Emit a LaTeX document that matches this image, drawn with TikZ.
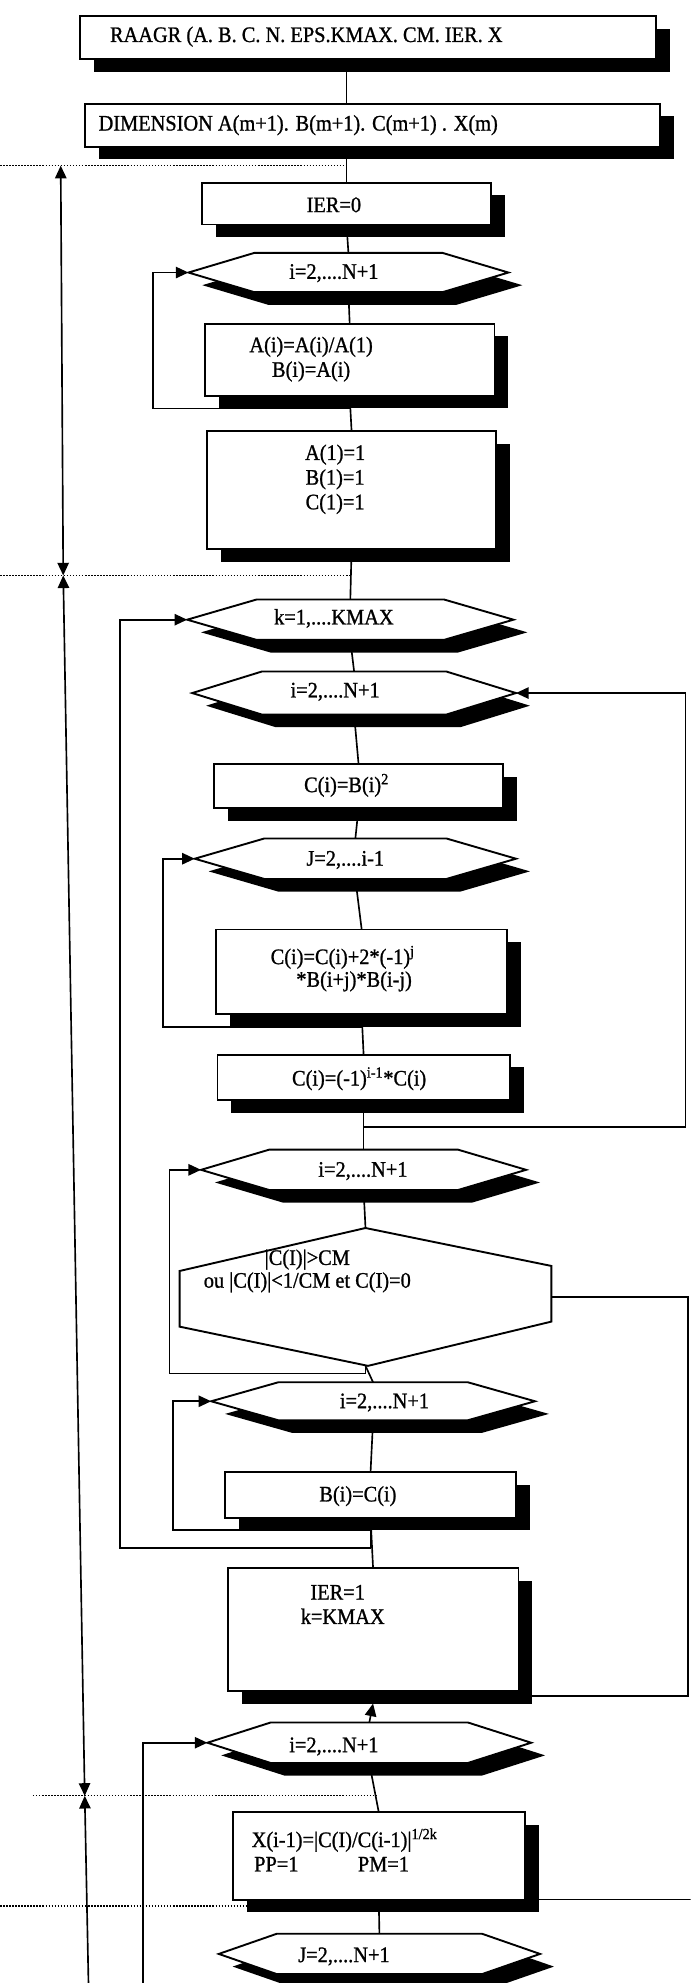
\documentclass[tikz,border=0pt]{standalone}
\usepackage{fontspec}
\setmainfont{Liberation Serif}[FakeStretch=0.92, FakeBold=1]
\usetikzlibrary{arrows.meta,calc}
\tikzset{
  boxnode/.style={draw=black, line width=1.5pt, fill=white, inner sep=0pt, outer sep=0pt},
  shapeline/.style={draw=black, line width=1.5pt, fill=white, line join=miter},
  anchorbox/.style={draw=none, inner sep=0pt, outer sep=0pt},
  wire/.style={draw=black, line width=1.3pt},
  arr/.style={wire, -{Triangle[length=10pt,width=9pt]}},
  dbl/.style={wire, {Triangle[length=10pt,width=9pt]}-{Triangle[length=10pt,width=9pt]}},
  upar/.style={wire, {Triangle[length=10pt,width=9pt]}-},
  sep/.style={draw=black, line width=1pt, dash pattern=on 1.2pt off 1.2pt},
  txt/.style={inner sep=0pt, outer sep=0pt, font=\fontsize{17.5}{19.5}\selectfont, align=center},
}
% box: name, cx, cy, width, height
\newcommand\mybox[5]{%
  \fill[black] ({#2-#4/2+11},{#3-#5/2+10}) rectangle ++(#4,#5);
  \node[boxnode, minimum width={#4}, minimum height={#5}] (#1) at (#2,#3) {};
}
% hexagon: name, cx, cy, half width, half height, inset
\newcommand\myhex[6]{%
  \fill[black, shift={(11,10)}] ({#2-#4},{#3}) -- ({#2-#4+#6},{#3-#5}) -- ({#2+#4-#6},{#3-#5}) -- ({#2+#4},{#3}) -- ({#2+#4-#6},{#3+#5}) -- ({#2-#4+#6},{#3+#5}) -- cycle;
  \draw[shapeline] ({#2-#4},{#3}) -- ({#2-#4+#6},{#3-#5}) -- ({#2+#4-#6},{#3-#5}) -- ({#2+#4},{#3}) -- ({#2+#4-#6},{#3+#5}) -- ({#2-#4+#6},{#3+#5}) -- cycle;
  \node[anchorbox, minimum width={2*#4}, minimum height={2*#5}] (#1) at (#2,#3) {};
}
\begin{document}
\begin{tikzpicture}[x=1pt, y=-1pt]
\useasboundingbox (0,0) rectangle (546,1568);
\clip (0,0) rectangle (546,1568);

% ---------- shapes ----------
\mybox{b1}{291}{30}{456}{34}
\mybox{b2}{294.5}{99}{455}{34}
\mybox{b3}{274}{161}{228}{33}
\myhex{h1}{275.5}{215.5}{126.5}{15.5}{52}
\mybox{ba}{276.5}{284.5}{229}{57}
\mybox{ba1}{278}{387.5}{228}{93}
\myhex{hk}{277}{490}{129}{16}{55}
\myhex{hi}{280}{548}{128}{17}{55}
\mybox{bc}{283.5}{621.5}{229}{35}
\myhex{hj}{281}{679}{127}{16}{55}
\mybox{bd}{286}{768.5}{230}{67}
\mybox{be}{287.5}{852}{231}{36}
\myhex{h3}{287.5}{925}{128.5}{16}{54}
\draw[shapeline] (289,971) -- (436,1001) -- (436,1045) -- (291,1080) -- (142,1049) -- (142,1005) -- cycle;
\node[anchorbox, minimum width=294, minimum height=109] (dec) at (289,1025.5) {};
\myhex{h4}{295}{1108}{128}{15}{53}
\mybox{bg}{293}{1182}{230}{36}
\mybox{bf}{295}{1288.5}{230}{97}
\myhex{h5}{292}{1378}{128}{16}{50}
\mybox{bx}{299.5}{1467.5}{231}{69}
\myhex{h6}{300}{1545}{127}{16}{46}

% ---------- texts ----------
\node[txt, anchor=west] (t1) at (87,29) {RAAGR (A. B. C. N. EPS.KMAX. CM. IER. X};
\node[txt, anchor=west] (t2) at (78,99) {DIMENSION A(m+1). B(m+1). C(m+1) . X(m)};
\node[txt] (t3) at (264,162) {IER=0};
\node[txt] (th1) at (264,216) {i=2,....N+1};
\node[txt] (ta) at (246,284) {A(i)=A(i)/A(1)\\B(i)=A(i)};
\node[txt] (ta1) at (265,379) {A(1)=1\\B(1)=1\\C(1)=1};
\node[txt] (thk) at (264,489) {k=1,....KMAX};
\node[txt] (thi) at (265,547) {i=2,....N+1};
\node[txt] (tc) at (274,621) {C(i)=B(i)\textsuperscript{2}};
\node[txt] (thj) at (273,680) {J=2,....i-1};
\node[txt] (td1) at (271,757) {C(i)=C(i)+2*(-1)\textsuperscript{j}};
\node[txt] (td2) at (280,776) {*B(i+j)*B(i-j)};
\node[txt] (te) at (284,853) {C(i)=(-1)\textsuperscript{i-1}*C(i)};
\node[txt] (th3) at (287,926) {i=2,....N+1};
\node[txt] (tdec1) at (243,996) {|C(I)|>CM};
\node[txt] (tdec2) at (243,1014) {ou |C(I)|<1/CM et C(I)=0};
\node[txt] (th4) at (304,1109) {i=2,....N+1};
\node[txt] (tg) at (283,1183) {B(i)=C(i)};
\node[txt] (tf1) at (267,1259) {IER=1};
\node[txt] (tf2) at (271,1278) {k=KMAX};
\node[txt] (th5) at (264,1381) {i=2,....N+1};
\node[txt, anchor=west] (tx1) at (199,1455) {X(i-1)=|C(I)/C(i-1)|\textsuperscript{1/2k}};
\node[txt, anchor=west] (tx2) at (201,1474) {PP=1};
\node[txt, anchor=west] (tx3) at (283,1474) {PM=1};
\node[txt] (th6) at (272,1547) {J=2,....N+1};

% ---------- coordinates ----------
\coordinate (L1) at (121,323);
\coordinate (LJ) at (129,812);
\coordinate (L3) at (134,1086);
\coordinate (L4) at (137,1210);
\coordinate (LK) at (95,1224);
\coordinate (L5) at (113,1570);
\coordinate (R1) at (542,891);
\coordinate (R3) at (544,1341);
\coordinate (RX) at (546,1502);
\coordinate (S1a) at (0,131);
\coordinate (S2a) at (0,455);
\coordinate (S3a) at (26,1420);
\coordinate (S4a) at (0,1507);
\coordinate (DA1) at (48,131);
\coordinate (DA2) at (50,455);
\coordinate (DA3) at (67,1420);
\coordinate (DA4) at (70,1570);
\coordinate (bxsw) at ([xshift=11pt]bx.south west);

% ---------- trunk ----------
\draw[wire] (b1.south -| b3.north) -- (b2.north -| b3.north);
\draw[wire] (b2.south -| b3.north) -- (b3.north);
\draw[wire] (b3.south) -- (h1.north);
\draw[wire] (h1.south) -- (ba.north);
\draw[wire] (ba.south) -- (ba1.north);
\draw[wire] (ba1.south) -- (hk.north);
\draw[wire] (hk.south) -- (hi.north);
\draw[wire] (hi.south) -- (bc.north);
\draw[wire] (bc.south) -- (hj.north);
\draw[wire] (hj.south) -- (bd.north);
\draw[wire] (bd.south) -- (be.north);
\draw[wire] (be.south) -- (h3.north);
\draw[wire] (h3.south) -- (dec.north);
\draw[wire] (dec.south) -- (h4.north);
\draw[wire] (h4.south) -- (bg.north);
\draw[wire] (bg.south) -- (bf.north);
\draw[arr] (h5.north) -- ([yshift=-10pt]bf.south);
\draw[wire] (h5.south) -- (bx.north);
\draw[wire] (bx.south) -- (h6.north);

% ---------- loops ----------
\draw[arr] ([yshift=-10pt]ba.south) -- (L1) |- (h1.west);
\draw[arr] ([yshift=-10pt]bd.south) -- (LJ) |- (hj.west);
\draw[arr] (dec.south) |- (L3) |- (h3.west);
\draw[arr] ([yshift=-10pt]bg.south) -- (L4) |- (h4.west);
\draw[arr] (bg.south) |- (LK) |- (hk.west);
\draw[arr] (L5) |- (h5.west);
\draw[arr] (be.south) |- (R1) |- (hi.east);
\draw[wire] (dec.east) -| (R3) -- (bf.east |- R3);
\draw[wire] (bx.south east) -- (RX);

% ---------- separators and range arrows ----------
\draw[sep] (S1a) -- (S1a -| b3.north);
\draw[sep] (S2a) -- (S2a -| ba1.south);
\draw[sep] (S3a) -- (S3a -| bx.north);
\draw[sep] (S4a) -- (S4a -| bxsw);
\draw[dbl] (DA1) -- (DA2);
\draw[dbl] (DA2) -- (DA3);
\draw[upar] (DA3) -- (DA4);
\end{tikzpicture}
\end{document}
